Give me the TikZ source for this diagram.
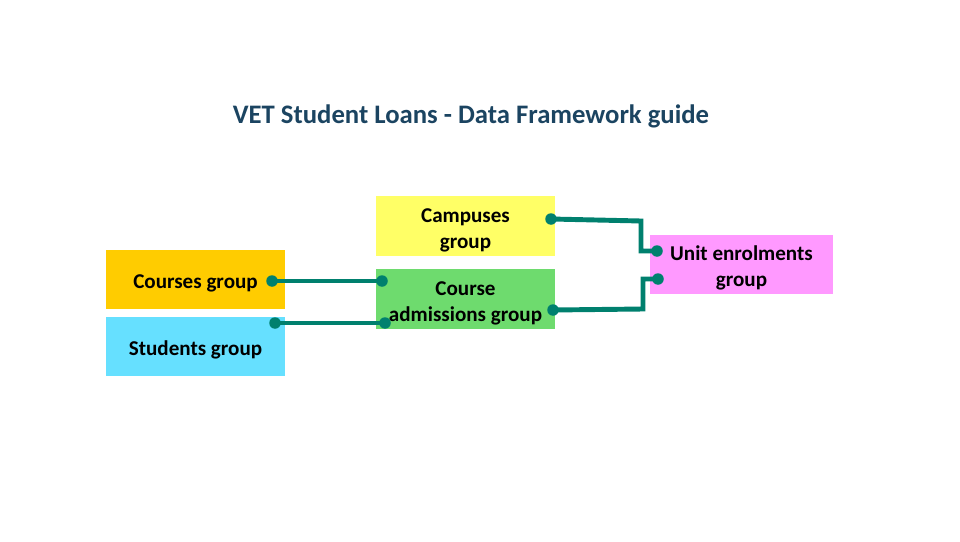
\documentclass[tikz,border=0pt]{standalone}
\usepackage{fontspec}
\setmainfont{Carlito}
\usetikzlibrary{positioning}

\definecolor{titleblue}{HTML}{1B4461}
\definecolor{linkteal}{HTML}{00806E}
\definecolor{coursegold}{HTML}{FFCC00}
\definecolor{studentcyan}{HTML}{66E0FF}
\definecolor{campusyellow}{HTML}{FFFF66}
\definecolor{admitgreen}{HTML}{6EDB6E}
\definecolor{unitpink}{HTML}{FF99FF}

% strut that pushes the box text a little lower
\newcommand{\tallrow}{\rule{0pt}{12.6pt}}

\tikzset{
  groupbox/.style={fill=#1,minimum width=3.58cm,minimum height=1.2cm,
    align=center,inner sep=0pt,font=\fontsize{12}{14.8}\selectfont\bfseries},
  link/.style={linkteal,line width=2.8pt},
  linkdot/.style={fill=linkteal,circle,inner sep=0pt,minimum size=0.23cm}
}

\begin{document}
\begin{tikzpicture}[x=0.02cm,y=-0.02cm]
\useasboundingbox (0,0) rectangle (960,541);

% ---- title ----
\node[titleblue,font=\fontsize{15.2}{18}\selectfont\bfseries] (title) at (471,116)
  {VET Student Loans - Data Framework guide};

% ---- five group boxes ----
\node[groupbox=coursegold]   (courses)  at (195.5,279.5) {\tallrow Courses group};
\node[groupbox=studentcyan]  (students) at (195.5,346.5) {\tallrow Students group};
\node[groupbox=campusyellow] (campuses) at (465.5,226)   {\tallrow Campuses\\group};
\node[groupbox=admitgreen]   (admit)    at (465.5,299)   {\tallrow Course\\admissions group};
\node[groupbox=unitpink,minimum width=3.66cm] (units) at (741.5,264.5) {\tallrow Unit enrolments\\group};

% ---- connector end points ----
\coordinate (cA) at (272,281);  % courses
\coordinate (cB) at (382,281);  % admissions, upper
\coordinate (sA) at (275,323);  % students
\coordinate (sB) at (385,323);  % admissions, lower
\coordinate (pA) at (551,219);  % campuses
\coordinate (pB) at (657,251);  % units, upper
\coordinate (aA) at (553,310);  % admissions, right
\coordinate (aB) at (658,279);  % units, lower

% ---- connectors ----
\draw[link] (cA) -- (cB);
\draw[link] (sA) -- (sB);
\draw[link] (pA) -- (641,221) -- (641,251) -- (pB);
\draw[link] (aA) -- (643,309) -- (643,279) -- (aB);

\foreach \p in {cA,cB,sA,sB,pA,pB,aA,aB}
  \node[linkdot] at (\p) {};

\end{tikzpicture}
\end{document}
